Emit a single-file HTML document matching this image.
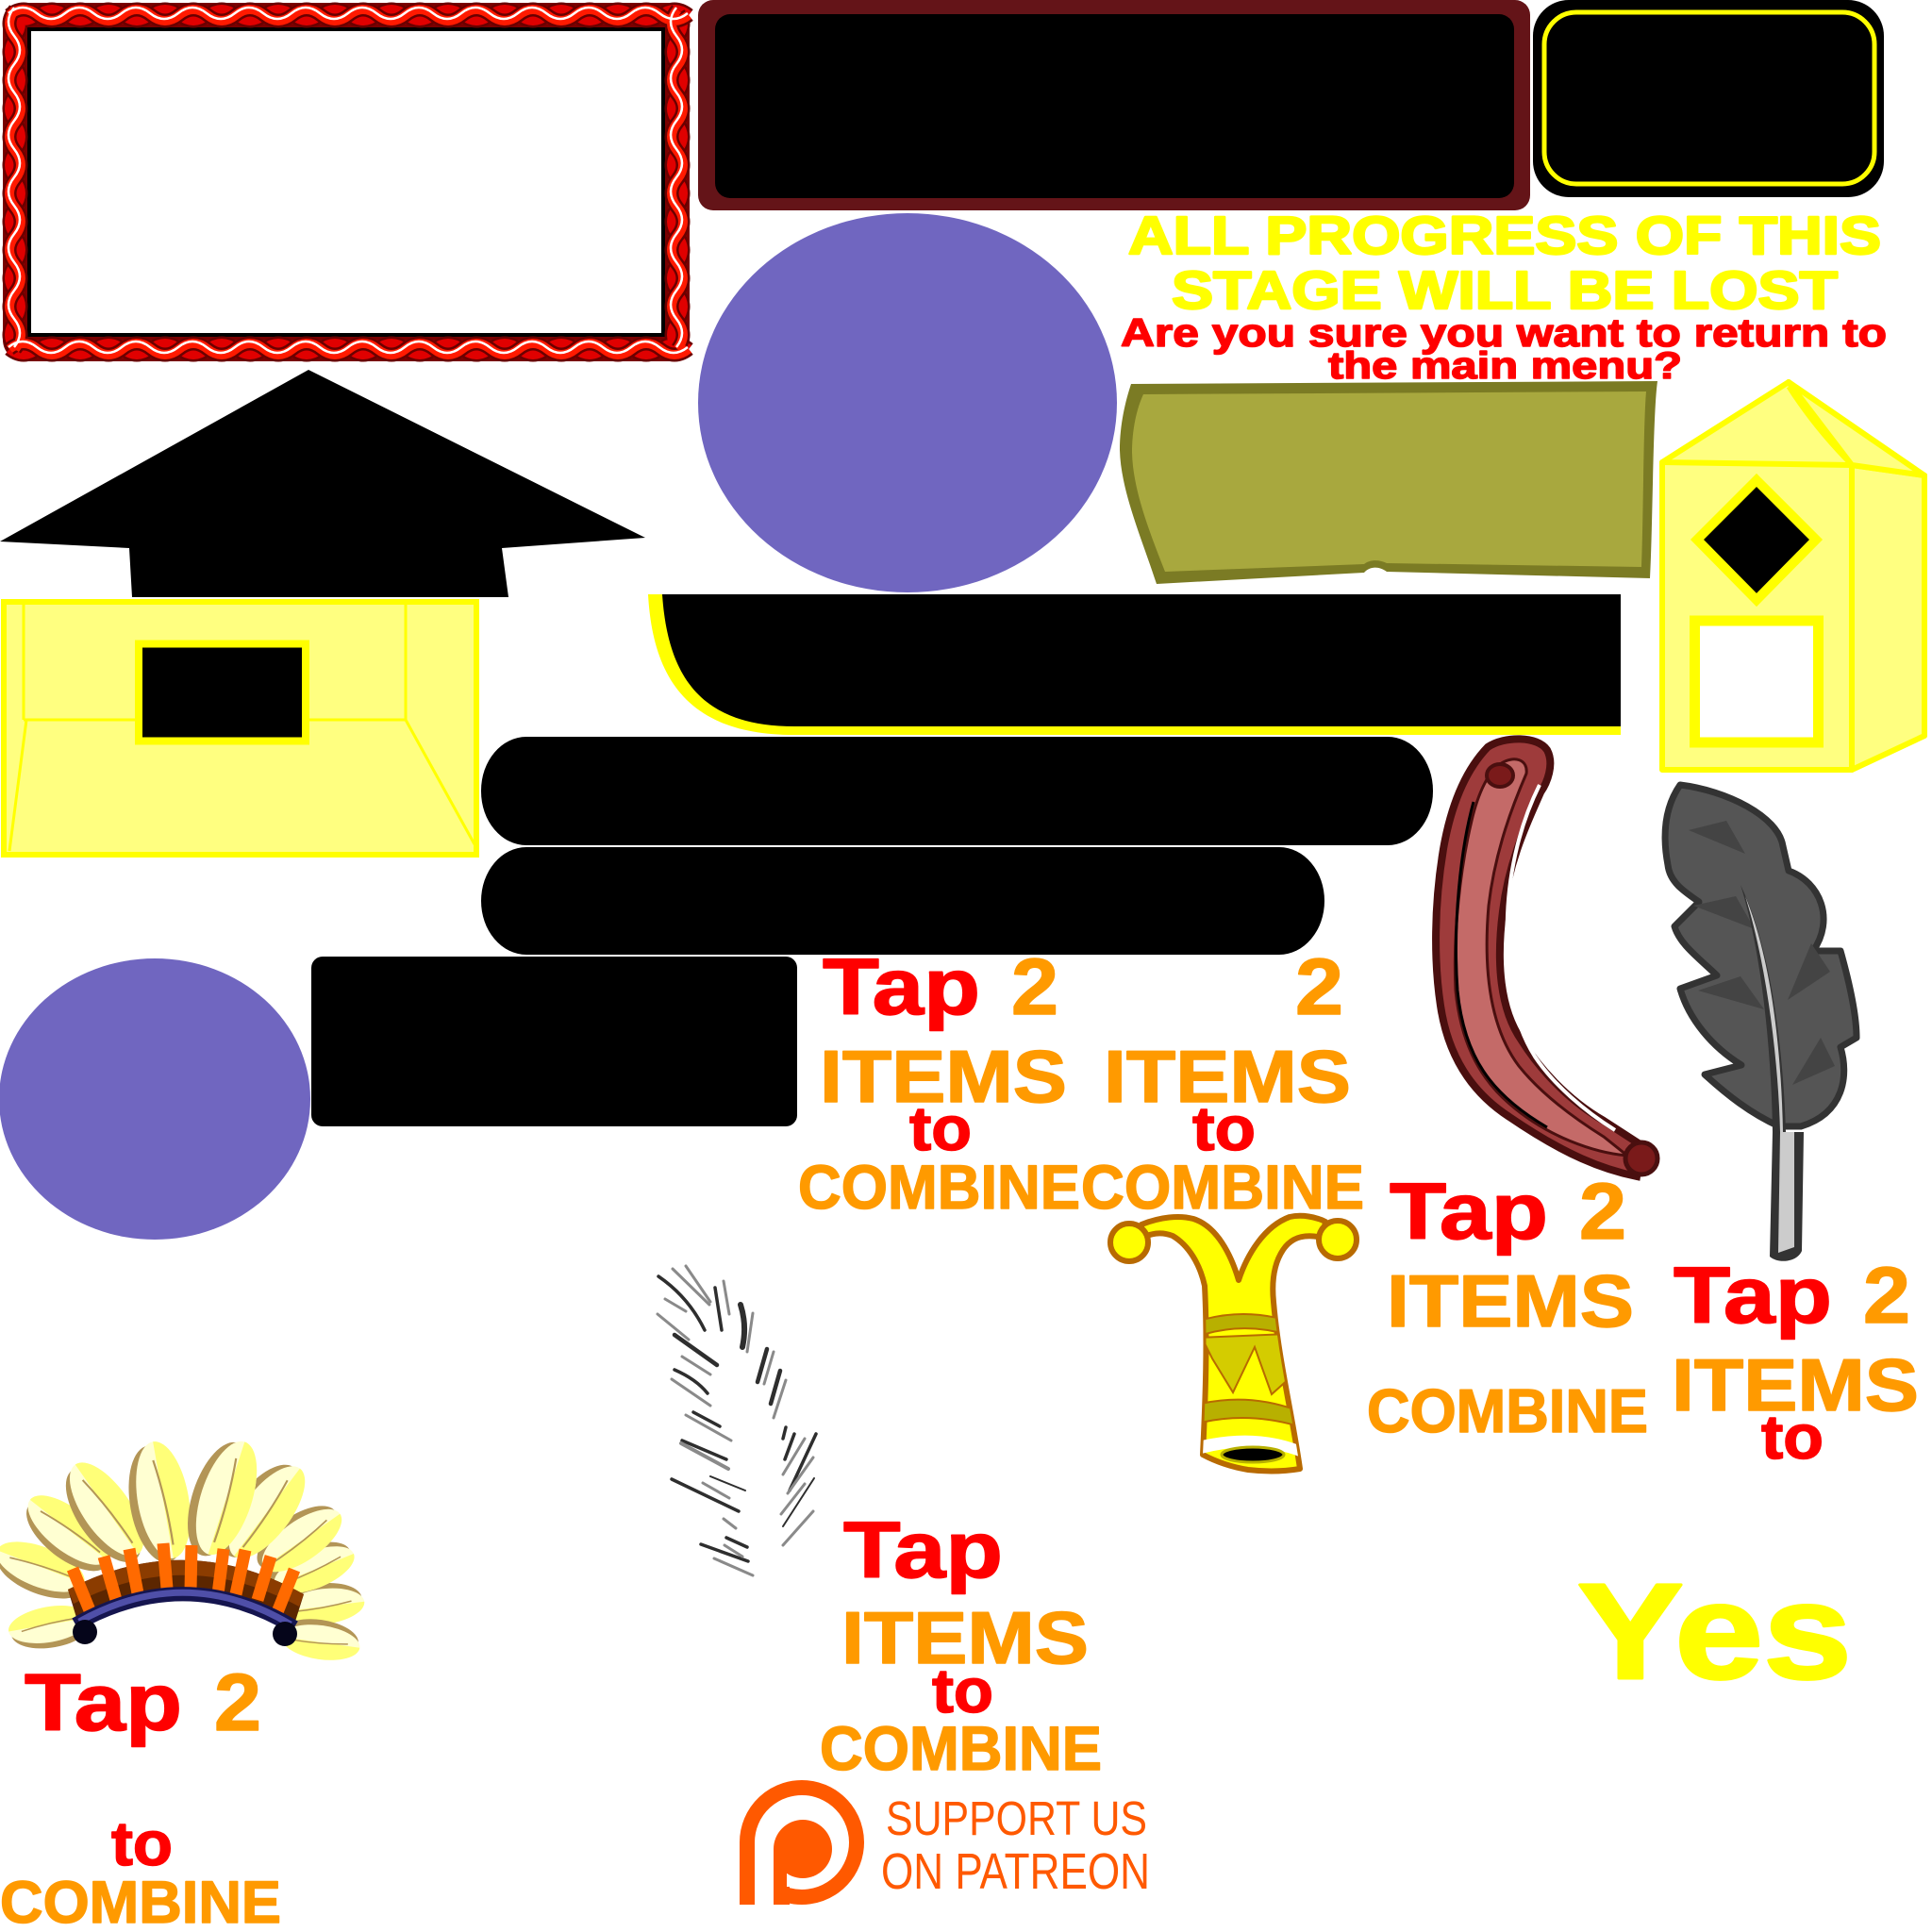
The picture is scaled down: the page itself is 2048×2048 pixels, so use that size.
<!DOCTYPE html>
<html><head><meta charset="utf-8"><style>
html,body{margin:0;padding:0;background:#fff;}
svg{display:block;}
.b{font-family:"Liberation Sans",Arial,sans-serif;font-weight:bold;stroke-linejoin:round;}
.n{font-family:"Liberation Sans",Arial,sans-serif;font-weight:normal;}
</style></head><body>
<svg width="2048" height="2048" viewBox="0 0 2048 2048" xmlns="http://www.w3.org/2000/svg">
<defs>
<path id="rA" fill="none" d="M10,16 q15,-12 30,0 t30,0 t30,0 t30,0 t30,0 t30,0 t30,0 t30,0 t30,0 t30,0 t30,0 t30,0 t30,0 t30,0 t30,0 t30,0 t30,0 t30,0 t30,0 t30,0 t30,0 t30,0 t30,0 t30,0 M10,370 q15,-12 30,0 t30,0 t30,0 t30,0 t30,0 t30,0 t30,0 t30,0 t30,0 t30,0 t30,0 t30,0 t30,0 t30,0 t30,0 t30,0 t30,0 t30,0 t30,0 t30,0 t30,0 t30,0 t30,0 t30,0 M16,10 q-12,15 0,30 t0,30 t0,30 t0,30 t0,30 t0,30 t0,30 t0,30 t0,30 t0,30 t0,30 t0,30 M718,10 q-12,15 0,30 t0,30 t0,30 t0,30 t0,30 t0,30 t0,30 t0,30 t0,30 t0,30 t0,30 t0,30"/>
<path id="rB" fill="none" d="M10,16 q15,12 30,0 t30,0 t30,0 t30,0 t30,0 t30,0 t30,0 t30,0 t30,0 t30,0 t30,0 t30,0 t30,0 t30,0 t30,0 t30,0 t30,0 t30,0 t30,0 t30,0 t30,0 t30,0 t30,0 t30,0 M10,370 q15,12 30,0 t30,0 t30,0 t30,0 t30,0 t30,0 t30,0 t30,0 t30,0 t30,0 t30,0 t30,0 t30,0 t30,0 t30,0 t30,0 t30,0 t30,0 t30,0 t30,0 t30,0 t30,0 t30,0 t30,0 M16,10 q12,15 0,30 t0,30 t0,30 t0,30 t0,30 t0,30 t0,30 t0,30 t0,30 t0,30 t0,30 t0,30 M718,10 q12,15 0,30 t0,30 t0,30 t0,30 t0,30 t0,30 t0,30 t0,30 t0,30 t0,30 t0,30 t0,30"/>
<g id="fth">
<ellipse cx="3" cy="6" rx="58" ry="27" fill="#b39556"/>
<ellipse rx="58" ry="25" fill="#ffffd2"/>
<path d="M-58,0 A58,25 0 0 1 58,0 Z" fill="#ffff78"/>
<path d="M-40,3 Q0,-3 45,-2" stroke="#b39556" stroke-width="2" fill="none"/>
</g>
<clipPath id="hornClip"><path d="M1350,1380 C1355,1440 1370,1500 1378,1557 C1360,1560 1340,1560 1323,1558 C1305,1555 1290,1550 1275,1542 C1278,1480 1280,1420 1277,1363 L1350,1363 Z"/></clipPath>
</defs>

<!-- Rope frame -->
<rect x="24" y="24" width="686" height="338" rx="8" fill="none" stroke="#000" stroke-width="18"/>
<rect x="16" y="16" width="702" height="354" rx="10" fill="none" stroke="#7a0000" stroke-width="26"/>
<rect x="16" y="16" width="702" height="354" rx="10" fill="none" stroke="#e80000" stroke-width="19"/>
<use href="#rB" stroke="#6a0000" stroke-width="15"/>
<use href="#rB" stroke="#e00000" stroke-width="10"/>
<use href="#rA" stroke="#6a0000" stroke-width="15"/>
<use href="#rA" stroke="#ff1a00" stroke-width="10"/>
<use href="#rA" stroke="#fff" stroke-width="2.5" transform="translate(-1,-2)"/>

<!-- Maroon panel -->
<rect x="740" y="0" width="882" height="223" rx="16" fill="#641418"/>
<rect x="758" y="15" width="847" height="195" rx="16" fill="#000"/>

<!-- Black/yellow panel -->
<rect x="1625" y="0" width="372" height="209" rx="38" fill="#000"/>
<rect x="1637" y="13" width="350" height="182" rx="34" fill="none" stroke="#ffff00" stroke-width="5"/>

<!-- Purple ellipse -->
<ellipse cx="962" cy="427" rx="222" ry="201" fill="#7066c0"/>

<!-- Top texts -->
<text class="b" x="1196" y="269" font-size="57" fill="#ffff00" stroke="#ffff00" stroke-width="2.5" textLength="798" lengthAdjust="spacingAndGlyphs">ALL PROGRESS OF THIS</text>
<text class="b" x="1242" y="327" font-size="57" fill="#ffff00" stroke="#ffff00" stroke-width="2.5" textLength="706" lengthAdjust="spacingAndGlyphs">STAGE WILL BE LOST</text>
<text class="b" x="1188" y="367" font-size="42" fill="#ff0000" stroke="#ff0000" stroke-width="1.5" textLength="812" lengthAdjust="spacingAndGlyphs">Are you sure you want to return to</text>
<text class="b" x="1408" y="401" font-size="40" fill="#ff0000" stroke="#ff0000" stroke-width="1.5" textLength="375" lengthAdjust="spacingAndGlyphs">the main menu?</text>

<!-- Olive banner -->
<path d="M1199,407 L1757,404 C1752,440 1752,560 1749,613 L1470,606 C1462,600 1452,600 1446,607 L1226,619 C1210,570 1188,520 1187,477 C1187,450 1193,425 1199,407 Z" fill="#7b7b24"/>
<path d="M1212,418 L1745,415 C1742,450 1742,550 1740,601 L1470,597 C1462,593 1452,593 1446,598 L1235,606 C1219,565 1201,520 1200,480 C1200,455 1205,433 1212,418 Z" fill="#a8a83e"/>

<!-- Yellow house right -->
<g fill="#ffff80" stroke="#ffff00" stroke-width="6" stroke-linejoin="round">
<polygon points="1963,493 2040,504 2040,780 1963,816"/>
<rect x="1762" y="490" width="201" height="326"/>
<polygon points="1896,405 1762,490 1963,493"/>
<polygon points="1896,405 1963,493 2040,504"/>
</g>
<path d="M1896,410 Q1925,455 1963,493" fill="none" stroke="#ffff00" stroke-width="5"/>
<polygon points="1862,509 1925,572 1862,636 1799,572" fill="#000" stroke="#ffff00" stroke-width="10" stroke-linejoin="miter"/>
<rect x="1796.5" y="658" width="131" height="129" fill="#fff" stroke="#ffff00" stroke-width="11"/>

<!-- Black arrow -->
<polygon points="327,392 684,570 532,581 539,633 140,633 137,581 0,574" fill="#000"/>

<!-- Yellow box left -->
<rect x="4" y="638" width="501" height="268" fill="#ffff80" stroke="#ffff00" stroke-width="6"/>
<g stroke="#ffff00" stroke-width="3" fill="none">
<line x1="25" y1="640" x2="25" y2="763"/>
<line x1="430" y1="640" x2="430" y2="763"/>
<line x1="25" y1="763" x2="430" y2="763"/>
<line x1="430" y1="763" x2="503" y2="895"/>
<line x1="28" y1="763" x2="10" y2="902"/>
</g>
<rect x="147" y="682.5" width="177" height="103" fill="#000" stroke="#ffff00" stroke-width="8"/>

<!-- Black banner with yellow -->
<path d="M687,630 L1718,630 L1718,779 L842,779 C730,779 692,720 687,630 Z" fill="#ffff00"/>
<path d="M702,630 L1718,630 L1718,770 L842,770 C745,770 708,720 702,630 Z" fill="#000"/>

<!-- Pills -->
<rect x="510" y="781" width="1009" height="115" rx="48" ry="57" fill="#000"/>
<rect x="510" y="898" width="894" height="114" rx="48" ry="57" fill="#000"/>

<!-- Purple ellipse 2 and black rect -->
<ellipse cx="164" cy="1165" rx="165" ry="149" fill="#7066c0"/>
<rect x="330" y="1014" width="515" height="180" rx="12" fill="#000"/>

<!-- Red horn -->
<path d="M1577,792 C1595,780 1630,780 1640,795 C1648,810 1640,830 1633,840 C1620,870 1600,910 1593,966 C1586,1020 1590,1070 1613,1103 C1630,1130 1660,1165 1700,1188 L1740,1214 L1735,1247 C1700,1240 1660,1225 1600,1184 C1560,1158 1535,1120 1527,1066 C1520,1020 1520,960 1530,900 C1537,860 1550,820 1577,792 Z" fill="#9e3b3b" stroke="#4a0f0f" stroke-width="8"/>
<path d="M1590,810 C1605,800 1620,805 1618,820 C1605,850 1585,900 1578,960 C1572,1030 1580,1090 1610,1130 C1630,1155 1660,1180 1700,1205 L1725,1225 C1690,1222 1640,1205 1600,1170 C1565,1140 1548,1100 1543,1050 C1540,990 1548,920 1560,870 C1567,840 1578,818 1590,810 Z" fill="#c46a68" stroke="#4a0f0f" stroke-width="3"/>
<path d="M1562,850 C1548,900 1540,980 1545,1050 C1552,1120 1580,1160 1640,1195" fill="none" stroke="#000" stroke-width="3"/>
<path d="M1632,832 C1612,872 1600,920 1598,970 C1596,1030 1602,1080 1627,1120 C1647,1150 1680,1178 1712,1198" fill="none" stroke="#fff" stroke-width="4"/>
<ellipse cx="1590" cy="822" rx="14" ry="12" fill="#7a1a1a" stroke="#4a0f0f" stroke-width="4"/>
<circle cx="1740" cy="1228" r="17" fill="#7a1a1a" stroke="#4a0f0f" stroke-width="5"/>

<!-- Grey feather -->
<path d="M1781,832 C1830,838 1885,865 1890,897 L1896,923 C1930,935 1945,975 1922,1008 L1951,1008 C1960,1040 1968,1075 1968,1100 L1951,1110 C1960,1140 1955,1180 1909,1194 L1886,1194 C1855,1180 1830,1160 1807,1139 L1846,1129 C1815,1110 1790,1080 1781,1048 L1820,1034 C1800,1015 1780,1000 1775,982 L1801,956 C1785,945 1770,935 1768,917 C1762,885 1765,855 1781,832 Z" fill="#555" stroke="#333" stroke-width="7" stroke-linejoin="round"/>
<g fill="#444">
<polygon points="1790,880 1850,905 1830,870"/>
<polygon points="1795,960 1860,985 1840,950"/>
<polygon points="1800,1050 1870,1070 1845,1035"/>
<polygon points="1920,1000 1895,1060 1940,1030"/>
<polygon points="1930,1100 1900,1150 1945,1130"/>
</g>
<path d="M1845,938 C1875,1000 1890,1100 1893,1200 L1912,1200 L1910,1326 C1905,1338 1885,1340 1876,1332 L1879,1200 C1878,1120 1868,1010 1845,938 Z" fill="#333"/>
<path d="M1850,950 C1875,1010 1888,1100 1890,1200 L1902,1200 L1902,1322 L1885,1328 L1887,1200 C1885,1120 1872,1020 1850,950 Z" fill="#cccccc"/>

<!-- Yellow horn -->
<path d="M1210,1298 C1230,1290 1250,1288 1265,1292 C1290,1300 1305,1330 1313,1357 C1322,1330 1340,1300 1367,1290 C1380,1287 1395,1290 1405,1295 L1402,1312 C1385,1308 1370,1310 1360,1325 C1350,1340 1348,1360 1350,1380 C1355,1440 1370,1500 1378,1557 C1360,1560 1340,1560 1323,1558 C1305,1555 1290,1550 1275,1542 C1278,1480 1280,1420 1277,1363 C1272,1340 1260,1320 1243,1310 C1230,1305 1220,1308 1210,1312 Z" fill="#ffff00" stroke="#b86a00" stroke-width="6" stroke-linejoin="round"/>
<g clip-path="url(#hornClip)" stroke="#b86a00" stroke-width="2">
<path d="M1265,1402 Q1315,1385 1365,1400 L1365,1415 Q1315,1400 1265,1418 Z" fill="#b8b000"/>
<polygon points="1270,1418 1365,1414 1368,1460 1348,1478 1330,1428 1307,1476 1285,1440 1275,1420" fill="#d4cc00"/>
<path d="M1265,1490 Q1320,1475 1375,1495 L1377,1512 Q1320,1495 1265,1510 Z" fill="#b8b000"/>
<path d="M1270,1528 Q1330,1513 1380,1533 L1380,1545 Q1330,1525 1270,1542 Z" fill="#fff" stroke="none"/>
</g>
<ellipse cx="1328" cy="1542" rx="33" ry="8" fill="#000" stroke="#b8b000" stroke-width="3"/>
<circle cx="1197" cy="1317" r="20" fill="#ffff00" stroke="#b86a00" stroke-width="6"/>
<circle cx="1418" cy="1314" r="20" fill="#ffff00" stroke="#b86a00" stroke-width="6"/>

<!-- Sketch feather strokes -->
<g stroke-linecap="round" fill="none">
<g stroke="#2e2e2e" stroke-width="3.5">
<path d="M698,1353 Q730,1375 747,1410"/>
<path d="M758,1365 L765,1410"/>
<path d="M785,1383 Q792,1405 787,1428" stroke-width="6"/>
<path d="M715,1415 L760,1447" stroke-width="4.5"/>
<path d="M715,1452 Q738,1462 750,1477"/>
<path d="M813,1430 L803,1465" stroke-width="4.5"/>
<path d="M827,1453 L817,1488" stroke-width="4.5"/>
<path d="M735,1497 L763,1512"/>
<path d="M723,1527 L770,1547"/>
<path d="M833,1513 L830,1525"/>
<path d="M842,1520 L832,1547"/>
<path d="M865,1520 L837,1580"/>
<path d="M863,1567 L830,1618" stroke-width="2"/>
<path d="M712,1568 L783,1602"/>
<path d="M753,1565 L790,1580" stroke-width="2"/>
<path d="M770,1630 L792,1640"/>
<path d="M743,1637 L793,1655"/>
</g>
<g stroke="#8a8a8a" stroke-width="3">
<path d="M713,1345 L752,1383"/>
<path d="M727,1342 L753,1380"/>
<path d="M705,1377 L727,1390"/>
<path d="M697,1393 L730,1420"/>
<path d="M767,1358 L773,1393"/>
<path d="M798,1392 L792,1433"/>
<path d="M723,1438 L753,1457"/>
<path d="M712,1462 L753,1490"/>
<path d="M820,1433 L810,1467"/>
<path d="M833,1463 L820,1503"/>
<path d="M727,1500 L775,1527"/>
<path d="M722,1530 L772,1557" stroke-width="4"/>
<path d="M853,1525 L830,1563"/>
<path d="M862,1545 L835,1583"/>
<path d="M862,1602 L830,1638"/>
<path d="M853,1573 L828,1605"/>
<path d="M745,1572 L773,1588"/>
<path d="M767,1610 L780,1620"/>
<path d="M768,1638 L787,1650"/>
<path d="M757,1652 L798,1670"/>
</g>
</g>

<!-- Headdress -->
<use href="#fth" transform="translate(343,1703) rotate(173) scale(0.75)"/>
<use href="#fth" transform="translate(340,1741) rotate(188) scale(0.72)"/>
<use href="#fth" transform="translate(52,1722) rotate(-10) scale(0.75)"/>
<use href="#fth" transform="translate(43,1661) rotate(21) scale(0.85)"/>
<use href="#fth" transform="translate(333,1664) rotate(158) scale(0.78)"/>
<use href="#fth" transform="translate(73,1622) rotate(38) scale(0.9)"/>
<use href="#fth" transform="translate(320,1633) rotate(145) scale(0.85)"/>
<use href="#fth" transform="translate(113,1600) rotate(55) scale(1.0)"/>
<use href="#fth" transform="translate(283,1603) rotate(127) scale(1.0)"/>
<use href="#fth" transform="translate(173,1590) rotate(80) scale(1.08)"/>
<use href="#fth" transform="translate(240,1588) rotate(108) scale(1.08)"/>
<path d="M72,1685 Q197,1620 322,1690 L312,1722 Q197,1652 82,1718 Z" fill="#5c2600"/>
<path d="M72,1685 Q197,1620 322,1690 L317,1703 Q197,1638 78,1700 Z" fill="#8b3c00"/>
<g stroke="#ff6a00" stroke-width="13" stroke-linecap="butt">
<line x1="77" y1="1663" x2="95" y2="1707"/>
<line x1="110" y1="1650" x2="123" y2="1696"/>
<line x1="137" y1="1642" x2="146" y2="1689"/>
<line x1="173" y1="1636" x2="177" y2="1684"/>
<line x1="203" y1="1638" x2="202" y2="1686"/>
<line x1="237" y1="1642" x2="231" y2="1690"/>
<line x1="260" y1="1643" x2="250" y2="1690"/>
<line x1="287" y1="1650" x2="273" y2="1696"/>
<line x1="312" y1="1664" x2="294" y2="1709"/>
</g>
<path d="M80,1722 Q197,1656 312,1725" fill="none" stroke="#15154f" stroke-width="15"/>
<path d="M84,1719 Q197,1656 308,1722" fill="none" stroke="#4f4fa8" stroke-width="7"/>
<circle cx="90" cy="1730" r="13" fill="#05051a"/>
<circle cx="302" cy="1732" r="13" fill="#05051a"/>

<!-- Text group A -->
<g stroke-width="1.5">
<text class="b" x="872" y="1075" font-size="84" fill="#ff0000" stroke="#ff0000" textLength="167" lengthAdjust="spacingAndGlyphs">Tap</text>
<text class="b" x="1072" y="1075" font-size="84" fill="#ff9a00" stroke="#ff9a00" textLength="50" lengthAdjust="spacingAndGlyphs">2</text>
<text class="b" x="1373" y="1075" font-size="84" fill="#ff9a00" stroke="#ff9a00" textLength="51" lengthAdjust="spacingAndGlyphs">2</text>
<text class="b" x="869" y="1168" font-size="78" fill="#ff9a00" stroke="#ff9a00" textLength="262" lengthAdjust="spacingAndGlyphs">ITEMS</text>
<text class="b" x="1170" y="1168" font-size="78" fill="#ff9a00" stroke="#ff9a00" textLength="262" lengthAdjust="spacingAndGlyphs">ITEMS</text>
<text class="b" x="964" y="1219" font-size="66" fill="#ff0000" stroke="#ff0000" textLength="66" lengthAdjust="spacingAndGlyphs">to</text>
<text class="b" x="1264" y="1219" font-size="66" fill="#ff0000" stroke="#ff0000" textLength="67" lengthAdjust="spacingAndGlyphs">to</text>
<text class="b" x="846" y="1281" font-size="66" fill="#ff9a00" stroke="#ff9a00" textLength="299" lengthAdjust="spacingAndGlyphs">COMBINE</text>
<text class="b" x="1146" y="1281" font-size="66" fill="#ff9a00" stroke="#ff9a00" textLength="300" lengthAdjust="spacingAndGlyphs">COMBINE</text>

<!-- Text group B -->
<text class="b" x="1473" y="1313" font-size="84" fill="#ff0000" stroke="#ff0000" textLength="168" lengthAdjust="spacingAndGlyphs">Tap</text>
<text class="b" x="1674" y="1313" font-size="84" fill="#ff9a00" stroke="#ff9a00" textLength="50" lengthAdjust="spacingAndGlyphs">2</text>
<text class="b" x="1470" y="1406" font-size="78" fill="#ff9a00" stroke="#ff9a00" textLength="262" lengthAdjust="spacingAndGlyphs">ITEMS</text>
<text class="b" x="1449" y="1518" font-size="65" fill="#ff9a00" stroke="#ff9a00" textLength="298" lengthAdjust="spacingAndGlyphs">COMBINE</text>

<!-- Text group C -->
<text class="b" x="1774" y="1402" font-size="84" fill="#ff0000" stroke="#ff0000" textLength="168" lengthAdjust="spacingAndGlyphs">Tap</text>
<text class="b" x="1975" y="1402" font-size="84" fill="#ff9a00" stroke="#ff9a00" textLength="50" lengthAdjust="spacingAndGlyphs">2</text>
<text class="b" x="1772" y="1495" font-size="78" fill="#ff9a00" stroke="#ff9a00" textLength="262" lengthAdjust="spacingAndGlyphs">ITEMS</text>
<text class="b" x="1867" y="1546" font-size="66" fill="#ff0000" stroke="#ff0000" textLength="66" lengthAdjust="spacingAndGlyphs">to</text>

<!-- Text group D -->
<text class="b" x="894" y="1672" font-size="84" fill="#ff0000" stroke="#ff0000" textLength="169" lengthAdjust="spacingAndGlyphs">Tap</text>
<text class="b" x="892" y="1763" font-size="78" fill="#ff9a00" stroke="#ff9a00" textLength="262" lengthAdjust="spacingAndGlyphs">ITEMS</text>
<text class="b" x="988" y="1815" font-size="66" fill="#ff0000" stroke="#ff0000" textLength="65" lengthAdjust="spacingAndGlyphs">to</text>
<text class="b" x="869" y="1876" font-size="66" fill="#ff9a00" stroke="#ff9a00" textLength="299" lengthAdjust="spacingAndGlyphs">COMBINE</text>

<!-- Text group E -->
<text class="b" x="26" y="1834" font-size="85" fill="#ff0000" stroke="#ff0000" textLength="167" lengthAdjust="spacingAndGlyphs">Tap</text>
<text class="b" x="227" y="1834" font-size="85" fill="#ff9a00" stroke="#ff9a00" textLength="50" lengthAdjust="spacingAndGlyphs">2</text>
<text class="b" x="118" y="1977" font-size="66" fill="#ff0000" stroke="#ff0000" textLength="65" lengthAdjust="spacingAndGlyphs">to</text>
<text class="b" x="0" y="2038" font-size="63" fill="#ff9a00" stroke="#ff9a00" textLength="298" lengthAdjust="spacingAndGlyphs">COMBINE</text>

<!-- Yes -->
<text class="b" x="1672" y="1779" font-size="144" fill="#ffff00" stroke="#ffff00" stroke-width="3" textLength="291" lengthAdjust="spacingAndGlyphs">Yes</text>
</g>

<!-- Patreon -->
<path d="M792,1953 A58,58 0 1 1 835,2009" fill="none" stroke="#ff5900" stroke-width="16"/>
<rect x="784" y="1953" width="16" height="66" fill="#ff5900"/>
<rect x="820" y="2000" width="17" height="19" fill="#ff5900"/>
<circle cx="851" cy="1960" r="31" fill="#ff5900"/>
<rect x="820" y="1960" width="14" height="59" fill="#ff5900"/>
<text class="n" x="939" y="1945" font-size="51" fill="#ff5900" textLength="277" lengthAdjust="spacingAndGlyphs">SUPPORT US</text>
<text class="n" x="934" y="2002" font-size="54" fill="#ff5900" textLength="285" lengthAdjust="spacingAndGlyphs">ON PATREON</text>
</svg>
</body></html>
